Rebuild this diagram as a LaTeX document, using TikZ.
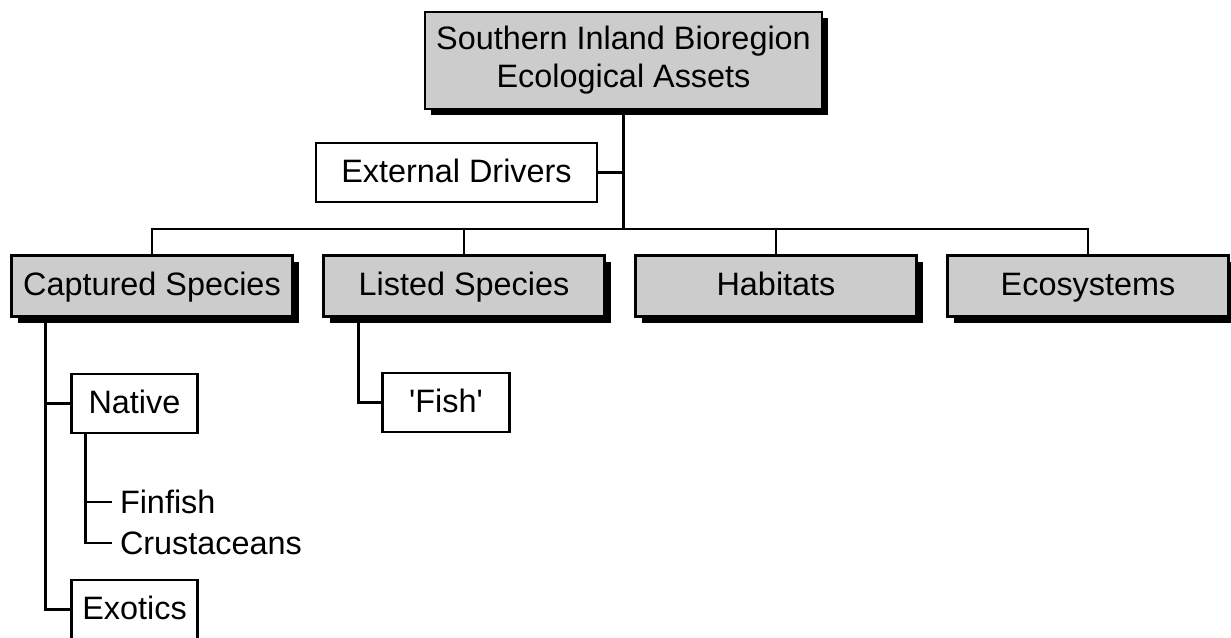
\documentclass[tikz,border=0pt]{standalone}
\usepackage{fontspec}
\setmainfont{Liberation Sans}
\usetikzlibrary{positioning,calc,shadows}
\definecolor{boxgrey}{HTML}{CCCCCC}
\tikzset{
  greybox/.style={rectangle,draw=black,line width=1.1pt,fill=boxgrey,align=center,inner sep=0pt,outer sep=0pt,minimum width=140.5pt,minimum height=30.5pt,font=\fontsize{16.2}{19}\selectfont,drop shadow={shadow xshift=3pt,shadow yshift=-3pt,fill=black,opacity=1}},
  assetbox/.style={greybox,text height=12.35pt,text depth=2.65pt},
  subbox/.style={rectangle,draw=black,line width=1.1pt,fill=white,align=center,inner sep=0pt,outer sep=0pt,minimum width=63pt,minimum height=29.5pt,text height=12.35pt,text depth=2.65pt,font=\fontsize{16.2}{19}\selectfont},
  leaf/.style={inner sep=4pt,outer sep=0pt,anchor=west,font=\fontsize{16.2}{19}\selectfont},
  link/.style={line width=1.1pt,draw=black}
}
\begin{document}
\begin{tikzpicture}
  \useasboundingbox[fill=white] (0,0) rectangle (615.5pt,-318.5pt);
  \node[greybox, minimum width=198.5pt, minimum height=48.5pt] (top) at (311.75pt,-30.25pt) {Southern Inland Bioregion\\Ecological Assets};
  \node[subbox, minimum width=140.5pt, anchor=north east] (drivers) at ($(top.south)+(-13.25pt,-17pt)$) {External Drivers};
  \node[assetbox] (captured) at (76pt,-143pt) {Captured Species};
  \node[assetbox, right=15.5pt of captured] (listed) {Listed Species};
  \node[assetbox, right=15.5pt of listed] (habitats) {Habitats};
  \node[assetbox, right=15.5pt of habitats] (ecosystems) {Ecosystems};
  \node[subbox, below right=28.75pt and 30pt of captured.south west] (native) {Native};
  \node[subbox, below=73.5pt of native] (exotics) {Exotics};
  \node[subbox, minimum width=63.5pt, below right=28.25pt and 29.5pt of listed.south west] (fish) {\textquotesingle Fish\textquotesingle};
  \node[leaf] (finfish) at (56pt,-251pt) {Finfish};
  \node[leaf] (crustaceans) at (56pt,-271.5pt) {Crustaceans};

  \coordinate (hub) at ($(top.south)+(0,-60pt)$);
  \coordinate (captrunk) at ($(captured.south west)+(17pt,0)$);
  \coordinate (nattrunk) at ($(native.south west)+(7pt,0)$);
  \coordinate (listtrunk) at ($(listed.south west)+(17.5pt,0)$);

  \draw[link] (top.south) -- (hub);
  \draw[link] (drivers.east) -- (drivers.east -| top.south);
  \foreach \n in {captured,listed,habitats,ecosystems}
    \draw[link] (hub) -| (\n.north);
  \draw[link] (captrunk) |- (native.west);
  \draw[link] (captrunk) |- (exotics.west);
  \draw[link] (nattrunk) |- (finfish.west);
  \draw[link] (nattrunk) |- (crustaceans.west);
  \draw[link] (listtrunk) |- (fish.west);
\end{tikzpicture}
\end{document}
